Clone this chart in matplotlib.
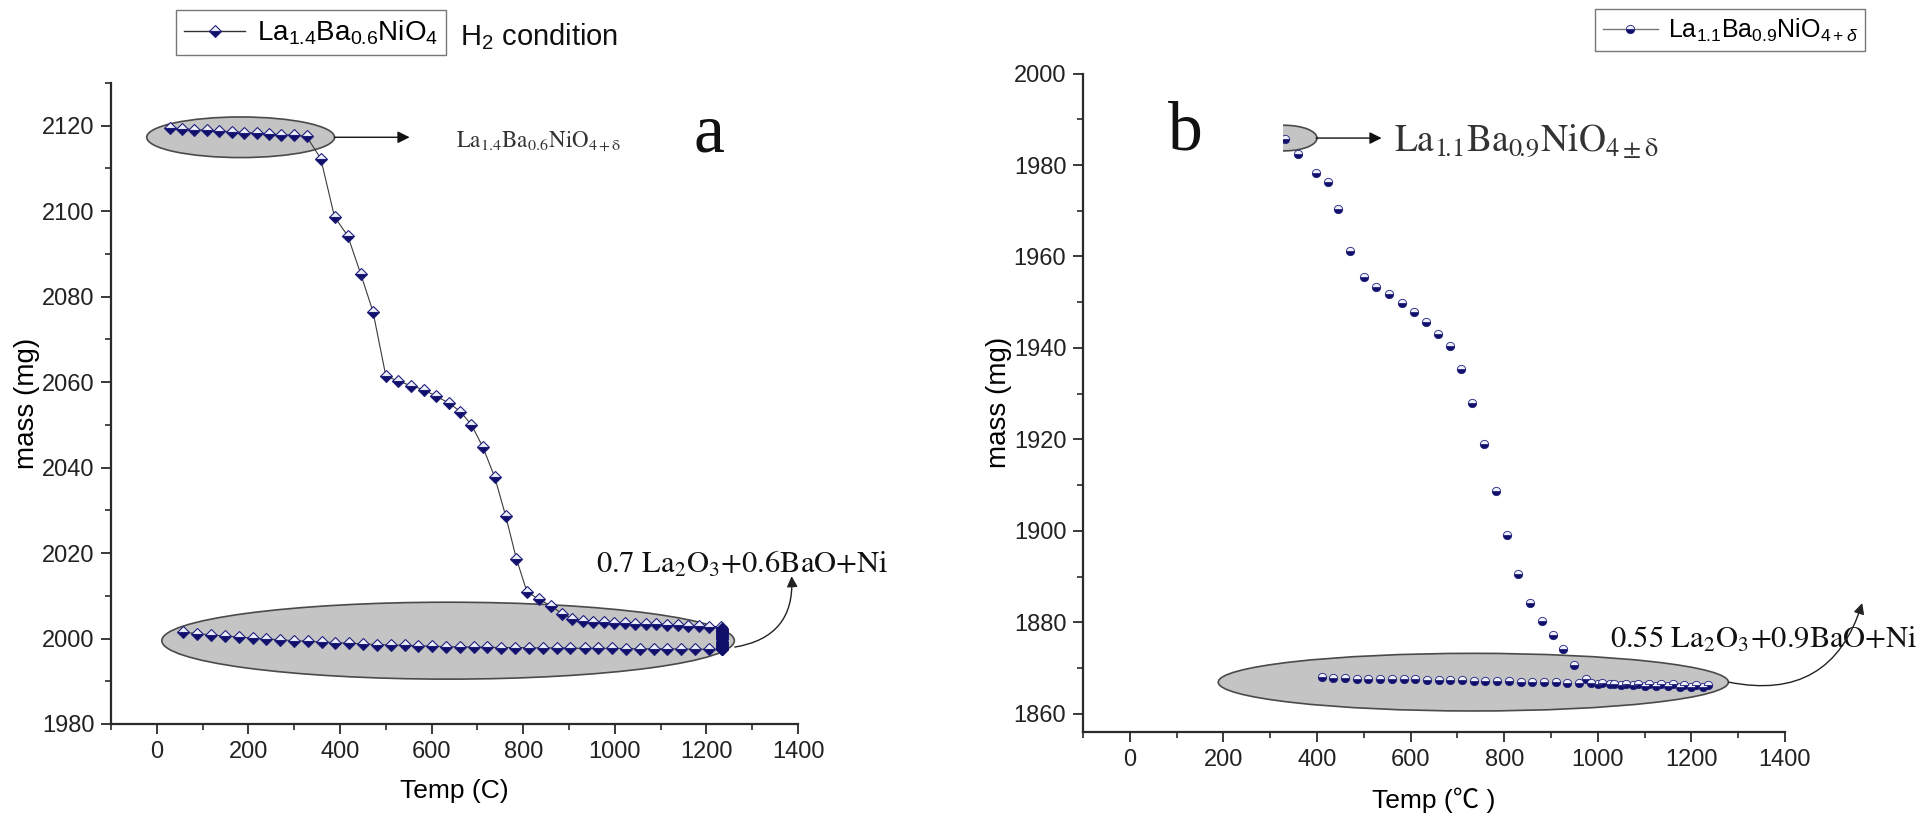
import matplotlib
matplotlib.use("Agg")
import matplotlib.pyplot as plt
from matplotlib.patches import Ellipse, Rectangle
from matplotlib.lines import Line2D

plt.rcParams['font.family'] = ['Liberation Sans', 'DejaVu Sans']
plt.rcParams['mathtext.fontset'] = 'custom'
plt.rcParams['mathtext.rm'] = 'Liberation Sans'
plt.rcParams['mathtext.it'] = 'Liberation Sans:italic'
plt.rcParams['mathtext.bf'] = 'Liberation Sans:bold'

# ---------------- data: panel a (La1.4Ba0.6NiO4, H2) ----------------
temp_a_heat = [28, 55, 82, 109, 136, 164, 191, 218, 245, 272, 300, 327,
               358, 388, 417, 445, 472, 500, 527, 555, 583, 610, 638, 663,
               687, 712, 738, 762, 785, 808, 834, 860, 885, 907, 930, 953,
               976, 999, 1022, 1045, 1068, 1091, 1114, 1137, 1160, 1183, 1206, 1232]
mass_a_heat = [2119.5, 2119.3, 2119.1, 2118.9, 2118.8, 2118.6, 2118.4, 2118.3,
               2118.1, 2117.9, 2117.8, 2117.5, 2112.3, 2098.7, 2094.2, 2085.4,
               2076.5, 2061.5, 2060.2, 2059.2, 2058.2, 2056.7, 2055.1, 2053.1,
               2050.0, 2044.8, 2037.7, 2028.6, 2018.7, 2011.0, 2009.2, 2007.7,
               2005.8, 2004.6, 2004.1, 2003.9, 2003.8, 2003.7, 2003.6, 2003.5,
               2003.4, 2003.3, 2003.2, 2003.1, 2003.0, 2002.9, 2002.8, 2002.7]
temp_a_hold = [1235, 1235, 1235, 1235, 1235, 1235, 1235, 1235, 1235, 1235, 1235]
mass_a_hold = [2002.3, 2001.8, 2001.3, 2000.8, 2000.3, 1999.8, 1999.3, 1998.8, 1998.3, 1997.9, 1997.5]
temp_a_cool = [1235, 1205, 1175, 1145, 1115, 1085, 1054, 1024, 994, 964,
               934, 903, 873, 843, 813, 783, 752, 722, 692, 662,
               632, 601, 571, 541, 511, 481, 451, 420, 390, 360,
               330, 300, 269, 239, 209, 179, 149, 118, 88, 58]
mass_a_cool = [1997.5, 1997.5, 1997.5, 1997.55, 1997.6, 1997.6, 1997.6, 1997.65, 1997.7, 1997.7,
               1997.7, 1997.75, 1997.8, 1997.8, 1997.85, 1997.9, 1997.9, 1997.95, 1998.0, 1998.05,
               1998.1, 1998.2, 1998.3, 1998.4, 1998.5, 1998.6, 1998.75, 1998.9, 1999.05, 1999.2,
               1999.35, 1999.5, 1999.7, 1999.9, 2000.1, 2000.35, 2000.6, 2000.85, 2001.15, 2001.5]

# ---------------- data: panel b (La1.1Ba0.9NiO4+d) ----------------
temp_b_heat = [332, 359, 397, 424, 445, 471, 500, 527, 554, 581, 607, 632,
               659, 684, 707, 732, 757, 782, 806, 830, 855, 880, 904, 925, 950,
               975, 1000, 1025, 1050, 1075, 1100, 1125, 1150, 1175, 1200, 1225]
mass_b_heat = [1985.8, 1982.5, 1978.2, 1976.2, 1970.4, 1961.2, 1955.5, 1953.4,
               1951.8, 1949.9, 1947.9, 1945.7, 1943.1, 1940.5, 1935.4, 1928.0,
               1918.9, 1908.7, 1899.0, 1890.5, 1884.2, 1880.3, 1877.2, 1874.2, 1870.6,
               1867.6, 1866.6, 1866.4, 1866.3, 1866.2, 1866.1, 1866.0, 1866.0, 1865.9, 1865.9, 1865.8]
temp_b_cool = [1235, 1210, 1185, 1160, 1135, 1110, 1085, 1060, 1035, 1010,
               985, 960, 935, 910, 885, 860, 835, 810, 785, 760,
               735, 710, 685, 660, 635, 610, 585, 560, 535, 510,
               485, 460, 435, 410]
mass_b_cool = [1866.2, 1866.3, 1866.3, 1866.4, 1866.4, 1866.5, 1866.5, 1866.6, 1866.6, 1866.7,
               1866.7, 1866.8, 1866.8, 1866.9, 1866.9, 1867.0, 1867.0, 1867.1, 1867.1, 1867.2,
               1867.2, 1867.3, 1867.3, 1867.4, 1867.4, 1867.5, 1867.5, 1867.6, 1867.6, 1867.7,
               1867.7, 1867.8, 1867.9, 1868.0]

xticks = [0, 200, 400, 600, 800, 1000, 1200, 1400]
yticks_a = [1980, 2000, 2020, 2040, 2060, 2080, 2100, 2120]
yticks_b = [1860, 1880, 1900, 1920, 1940, 1960, 1980, 2000]

W, H = 1923, 832
fig = plt.figure(figsize=(W / 100, H / 100), dpi=100)

def fx(x):
    return x / W

def fy(y):
    return 1 - y / H

ax_a = fig.add_axes([fx(111), fy(724), fx(798 - 111), (724 - 83) / H])
ax_b = fig.add_axes([fx(1083), fy(732), fx(1785 - 1083), (732 - 73.6) / H])

NAVY = '#10106a'
LIGHT = '#eef0fb'
EDGE = '#20207c'
mk_a = dict(marker='D', markersize=5.8, fillstyle='bottom', markerfacecolor=NAVY,
            markerfacecoloralt=LIGHT, markeredgecolor=EDGE, markeredgewidth=0.8)
mk_b = dict(marker='o', markersize=6.0, fillstyle='bottom', markerfacecolor=NAVY,
            markerfacecoloralt=LIGHT, markeredgecolor=EDGE, markeredgewidth=0.6)

for ax in (ax_a, ax_b):
    for s in ('top', 'right'):
        ax.spines[s].set_visible(False)
    for s in ('left', 'bottom'):
        ax.spines[s].set_linewidth(1.6)
        ax.spines[s].set_color('#2a2a2a')
    ax.set_xticks(xticks)
    ax.tick_params(which='major', direction='out', length=7, width=1.3,
                   colors='#2a2a2a', labelsize=17, labelcolor='#222222', pad=5)
    ax.tick_params(which='minor', direction='out', length=4, width=1.2, colors='#2a2a2a')
    ax.set_facecolor('none')

# ---------------- panel a ----------------
ax_a.set_xlim(-100, 1400)
ax_a.set_ylim(1980, 2130)
ax_a.set_yticks(yticks_a)
ax_a.set_yticks([y + 10 for y in yticks_a], minor=True)
ax_a.set_xticks([-100] + [x + 100 for x in xticks[:-1]], minor=True)

ax_a.add_patch(Ellipse((183, 2117.3), 410, 9.5, facecolor='#c4c4c4', edgecolor='#4a4a4a', lw=1.2, zorder=1))
ax_a.add_patch(Ellipse((636, 1999.5), 1250, 18, facecolor='#c4c4c4', edgecolor='#4a4a4a', lw=1.2, zorder=1))

all_t = temp_a_heat + temp_a_hold + temp_a_cool
all_m = mass_a_heat + mass_a_hold + mass_a_cool
ax_a.plot(all_t, all_m, color='#3a3a3a', lw=0.8, zorder=2)
ax_a.plot(all_t, all_m, linestyle='none', zorder=3, **mk_a)
ax_a.plot(temp_a_hold, mass_a_hold, linestyle='none', marker='D', markersize=5.8,
          color=NAVY, markeredgecolor=NAVY, zorder=4)

ax_a.annotate('', xy=(552, 2117.3), xytext=(388, 2117.3),
              arrowprops=dict(arrowstyle='-|>', color='#111111', lw=1.0,
                              mutation_scale=18, shrinkA=0, shrinkB=0))
ax_a.text(653, 2116.3, r'$\mathrm{La_{1.4}Ba_{0.6}NiO_{4+\delta}}$', fontsize=16.5,
          math_fontfamily='stix', color='#333333', va='center', ha='left')
ax_a.text(1205, 2118.0, 'a', fontsize=50, family='Liberation Serif', va='center', ha='center', color='#111111')
ax_a.text(960, 2017.3, r'$\mathrm{0.7\ La_{2}O_{3}{+}0.6BaO{+}Ni}$', fontsize=22,
          math_fontfamily='stix', color='#111111', va='center', ha='left', clip_on=False)
ax_a.annotate('', xy=(1386, 2014.6), xytext=(1262, 1998.0),
              arrowprops=dict(arrowstyle='-|>', color='#222222', lw=1.0,
                              mutation_scale=16, shrinkA=0, shrinkB=0,
                              connectionstyle='arc3,rad=0.45'),
              annotation_clip=False)

ax_a.set_xlabel('Temp (C)', fontsize=19, labelpad=12)
ax_a.set_ylabel('mass (mg)', fontsize=20, labelpad=1)

h_a = Line2D([], [], color='#333333', lw=1.0, **mk_a)
ax_a.legend([h_a], [r'La$_{1.4}$Ba$_{0.6}$NiO$_{4}$'], loc='upper left',
            bbox_to_anchor=(fx(176), fy(10)), bbox_transform=fig.transFigure,
            borderaxespad=0, fancybox=False, edgecolor='#777777', framealpha=1,
            fontsize=20, handlelength=2.2, handletextpad=0.4, borderpad=0.3)
fig.text(fx(460), fy(37), r'H$_2$ condition', fontsize=21, va='center', ha='left', color='#111111')

# ---------------- panel b ----------------
ax_b.set_xlim(-100, 1400)
ax_b.set_ylim(1856, 2000)
ax_b.set_yticks(yticks_b)
ax_b.set_yticks([y + 10 for y in yticks_b[:-1]], minor=True)
ax_b.set_xticks([-100] + [x + 100 for x in xticks[:-1]], minor=True)

ax_b.add_patch(Ellipse((330, 1985.9), 140, 5.6, facecolor='#c4c4c4', edgecolor='#4a4a4a', lw=1.2, zorder=1))
ax_b.add_patch(Ellipse((734, 1866.9), 1090, 12.6, facecolor='#c4c4c4', edgecolor='#4a4a4a', lw=1.2, zorder=1))

ax_b.plot(temp_b_heat + temp_b_cool, mass_b_heat + mass_b_cool, linestyle='none', zorder=3, **mk_b)

ax_b.add_patch(Rectangle((-5, 1976), 332, 23.5, facecolor='white', edgecolor='none', zorder=4))
ax_b.text(118, 1987, 'b', fontsize=50, family='Liberation Serif', va='center', ha='center',
          color='#111111', zorder=5)

ax_b.annotate('', xy=(538, 1985.9), xytext=(398, 1985.9),
              arrowprops=dict(arrowstyle='-|>', color='#111111', lw=1.0,
                              mutation_scale=18, shrinkA=0, shrinkB=0))
ax_b.text(564, 1985.0, r'$\mathrm{La_{1\!.\!1}Ba_{0\!.\!9}NiO_{4\pm\delta}}$', fontsize=27,
          math_fontfamily='stix', color='#333333', va='center', ha='left')
ax_b.text(1025, 1876.1, r'$\mathrm{0.55\ La_{2}O_{3}{+}0.9BaO{+}Ni}$', fontsize=22,
          math_fontfamily='stix', color='#111111', va='center', ha='left', clip_on=False)
ax_b.annotate('', xy=(1565, 1884.2), xytext=(1280, 1866.9),
              arrowprops=dict(arrowstyle='-|>', color='#222222', lw=1.0,
                              mutation_scale=16, shrinkA=0, shrinkB=0,
                              connectionstyle='arc3,rad=0.45'),
              annotation_clip=False)

ax_b.set_xlabel('Temp (\u2103 )', fontsize=19, labelpad=12,
                family=['Liberation Sans', 'Noto Sans CJK SC', 'DejaVu Sans'])
ax_b.set_ylabel('mass (mg)', fontsize=20, labelpad=1)

h_b = Line2D([], [], color='#777777', lw=1.0, **mk_b)
ax_b.legend([h_b], [r'La$_{1.1}$Ba$_{0.9}$NiO$_{4+\delta}$'], loc='upper left',
            bbox_to_anchor=(fx(1595), fy(9)), bbox_transform=fig.transFigure,
            borderaxespad=0, fancybox=False, edgecolor='#777777', framealpha=1,
            fontsize=18, handlelength=2.2, handletextpad=0.4, borderpad=0.3)

fig.savefig('out.png', dpi=100, facecolor='white')
